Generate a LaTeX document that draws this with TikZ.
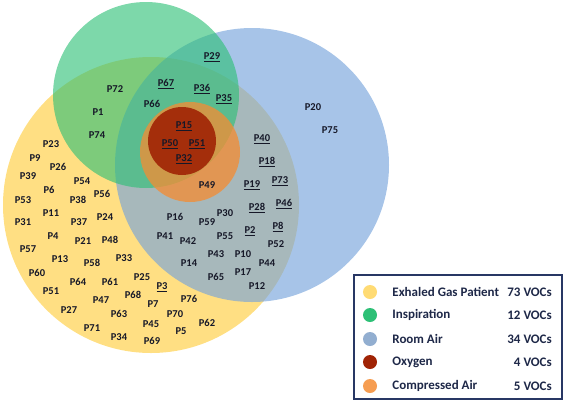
\documentclass[tikz,border=0pt]{standalone}
\usepackage{fontspec}
\setmainfont{Carlito}
\usepackage{tikz}
\usetikzlibrary{positioning}
\definecolor{exhaled}{RGB}{255,215,100}
\definecolor{inspir}{RGB}{45,192,118}
\definecolor{roomair}{RGB}{116,162,219}
\definecolor{oxygen}{RGB}{160,35,5}
\definecolor{compair}{RGB}{245,140,50}
\definecolor{vocink}{RGB}{22,24,40}
\definecolor{keyink}{RGB}{30,40,72}
\definecolor{keyframe}{RGB}{40,55,100}
\tikzset{
    voc/.style={font=\fontsize{10.5}{12}\selectfont\bfseries, text=vocink, inner sep=0pt},
    key/.style={font=\fontsize{13}{15}\selectfont\bfseries, text=keyink, inner sep=0pt},
    dot/.style={circle, minimum size=14pt, inner sep=0pt},
    set/.style={fill opacity=#1}
}

\begin{document}
\begin{tikzpicture}[x=1pt, y=-1pt]
    \useasboundingbox (0,0) rectangle (567,402);
    % the five sets
    \fill[exhaled, set=0.8] (151,205) circle (148);
    \fill[roomair, set=0.63] (252,165) circle (137);
    \fill[inspir, set=0.62] (146,95) circle (93);
    \fill[compair, set=0.75] (190,152) circle (50);
    \fill[oxygen, set=0.9] (182,141) circle (34);
    % inspiration
    \node[voc] (p72) at (115,89) {P72};
    \node[voc] (p1) at (98,112) {P1};
    \node[voc] (p74) at (97,135) {P74};
    \node[voc] (p66) at (152,104) {P66};
    \node[voc] (p67) at (166,84) {\underline{P67}};
    \node[voc] (p36) at (202,89) {\underline{P36}};
    \node[voc] (p35) at (224,99) {\underline{P35}};
    \node[voc] (p29) at (212,57) {\underline{P29}};
    % oxygen and compressed air
    \node[voc] (p15) at (184,126) {\underline{P15}};
    \node[voc] (p50) at (170,144) {\underline{P50}};
    \node[voc] (p51) at (197,144) {\underline{P51}};
    \node[voc] (p32) at (184,159) {\underline{P32}};
    \node[voc] (p49) at (207,185) {P49};
    % room air
    \node[voc] (p20) at (313,107) {P20};
    \node[voc] (p75) at (330,130) {P75};
    \node[voc] (p40) at (262,139) {\underline{P40}};
    \node[voc] (p18) at (267,162) {\underline{P18}};
    \node[voc] (p73) at (280,181) {\underline{P73}};
    \node[voc] (p19) at (252,185) {\underline{P19}};
    \node[voc] (p46) at (284,204) {\underline{P46}};
    \node[voc] (p28) at (257,208) {\underline{P28}};
    \node[voc] (p8) at (278,227) {\underline{P8}};
    \node[voc] (p2) at (250,231) {\underline{P2}};
    \node[voc] (p16) at (175,217) {P16};
    \node[voc] (p30) at (225,213) {P30};
    \node[voc] (p59) at (207,222) {P59};
    \node[voc] (p41) at (165,236) {P41};
    \node[voc] (p42) at (188,241) {P42};
    \node[voc] (p55) at (225,236) {P55};
    \node[voc] (p52) at (276,244) {P52};
    \node[voc] (p43) at (216,254) {P43};
    \node[voc] (p10) at (243,254) {P10};
    \node[voc] (p14) at (189,263) {P14};
    \node[voc] (p44) at (267,263) {P44};
    \node[voc] (p17) at (243,272) {P17};
    \node[voc] (p65) at (216,277) {P65};
    \node[voc] (p12) at (257,286) {P12};
    % exhaled gas patient
    \node[voc] (p23) at (51,144) {P23};
    \node[voc] (p9) at (35,158) {P9};
    \node[voc] (p26) at (58,167) {P26};
    \node[voc] (p39) at (28,176) {P39};
    \node[voc] (p54) at (82,181) {P54};
    \node[voc] (p6) at (49,190) {P6};
    \node[voc] (p56) at (102,194) {P56};
    \node[voc] (p53) at (23,200) {P53};
    \node[voc] (p38) at (78,200) {P38};
    \node[voc] (p11) at (51,213) {P11};
    \node[voc] (p24) at (105,217) {P24};
    \node[voc] (p31) at (23,222) {P31};
    \node[voc] (p37) at (79,222) {P37};
    \node[voc] (p4) at (53,236) {P4};
    \node[voc] (p21) at (83,241) {P21};
    \node[voc] (p48) at (110,240) {P48};
    \node[voc] (p57) at (28,249) {P57};
    \node[voc] (p13) at (60,259) {P13};
    \node[voc] (p58) at (92,263) {P58};
    \node[voc] (p33) at (124,258) {P33};
    \node[voc] (p60) at (37,273) {P60};
    \node[voc] (p64) at (78,282) {P64};
    \node[voc] (p61) at (110,282) {P61};
    \node[voc] (p25) at (142,277) {P25};
    \node[voc] (p3) at (162,287) {\underline{P3}};
    \node[voc] (p51b) at (51,291) {P51};
    \node[voc] (p47) at (101,300) {P47};
    \node[voc] (p68) at (133,295) {P68};
    \node[voc] (p7) at (153,304) {P7};
    \node[voc] (p76) at (189,299) {P76};
    \node[voc] (p27) at (69,310) {P27};
    \node[voc] (p63) at (119,314) {P63};
    \node[voc] (p70) at (175,314) {P70};
    \node[voc] (p71) at (92,328) {P71};
    \node[voc] (p45) at (151,324) {P45};
    \node[voc] (p62) at (207,323) {P62};
    \node[voc] (p34) at (119,337) {P34};
    \node[voc] (p5) at (181,331) {P5};
    \node[voc] (p69) at (152,341) {P69};
    % legend
    \draw[keyframe, line width=1.2pt, fill=white] (354,275) rectangle (562,399);
    \node[dot, fill=exhaled!90] (m1) at (370,292) {};
    \node[dot, fill=inspir] (m2) at (370,315) {};
    \node[dot, fill=roomair!75!gray!80] (m3) at (370,339) {};
    \node[dot, fill=oxygen] (m4) at (370,362) {};
    \node[dot, fill=compair!85] (m5) at (370,386) {};
    \node[key, right=15pt of m1] (k1) {Exhaled Gas Patient};
    \node[key, right=15pt of m2] (k2) {Inspiration};
    \node[key, right=15pt of m3] (k3) {Room Air};
    \node[key, right=15pt of m4] (k4) {Oxygen};
    \node[key, right=15pt of m5] (k5) {Compressed Air};
    \node[key, anchor=east] (n1) at (552,292) {73 VOCs};
    \node[key, anchor=east] (n2) at (552,315) {12 VOCs};
    \node[key, anchor=east] (n3) at (552,339) {34 VOCs};
    \node[key, anchor=east] (n4) at (552,362) {4 VOCs};
    \node[key, anchor=east] (n5) at (552,386) {5 VOCs};
\end{tikzpicture}
\end{document}
